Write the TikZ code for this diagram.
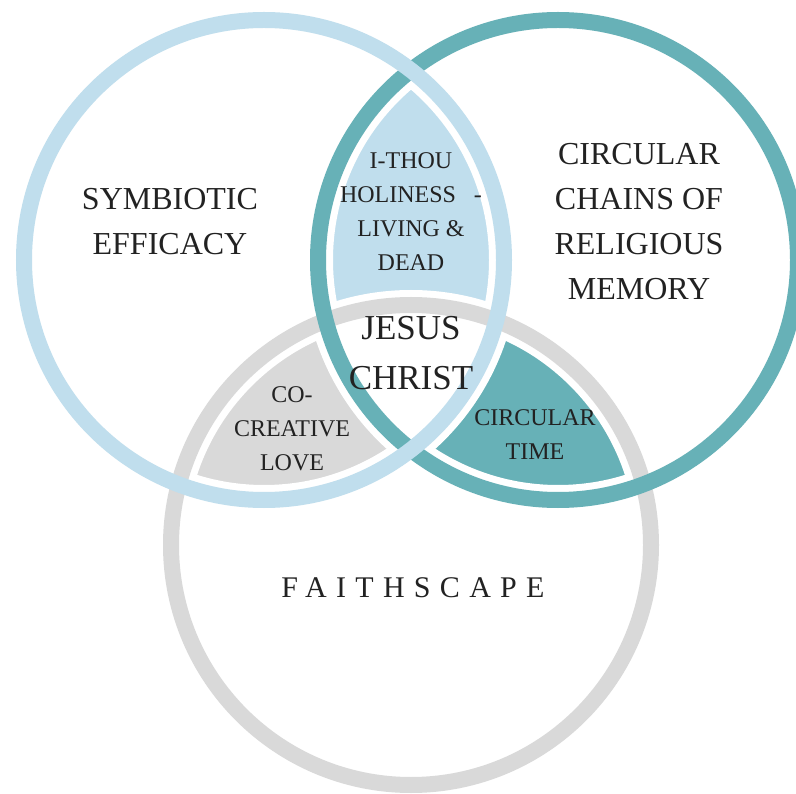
\documentclass[tikz,border=0pt]{standalone}
\usepackage{fontspec}
\setmainfont{Liberation Serif}
\newfontfamily\spacedfont[LetterSpace=31]{Liberation Serif}
\usepackage{tikz}
\usetikzlibrary{positioning}
\definecolor{ringblue}{RGB}{192,222,237}
\definecolor{ringteal}{RGB}{103,177,183}
\definecolor{ringgray}{RGB}{217,217,217}
\definecolor{ink}{RGB}{34,34,34}
\tikzstyle{ringline}=[line width=16pt]
\tikzstyle{halo}=[white,line width=30pt]
\tikzstyle{biglabel}=[align=center,text=ink,inner sep=0pt,font=\fontsize{32}{45}\selectfont]
\tikzstyle{smalllabel}=[align=center,text=ink,inner sep=0pt,font=\fontsize{24}{34}\selectfont]
\tikzstyle{corelabel}=[align=center,text=ink,inner sep=0pt,font=\fontsize{35}{50}\selectfont]
\tikzstyle{spacedlabel}=[text=ink,inner sep=0pt,font=\spacedfont\fontsize{30}{36}\selectfont]

\begin{document}
\begin{tikzpicture}[x=1pt,y=-1pt]
	\useasboundingbox (0,0) rectangle (796,794);
	\clip (0,0) rectangle (796,794);
	\coordinate (leftring) at (264,260);
	\coordinate (rightring) at (558,260);
	\coordinate (lowring) at (411,545);
	
	\begin{scope}
		\clip (leftring) circle (248pt);
		\clip (rightring) circle (248pt);
		\fill[ringblue,even odd rule] (lowring) circle (248pt) (0,0) rectangle (796,794);
	\end{scope}
	\begin{scope}
		\clip (leftring) circle (248pt);
		\clip (lowring) circle (248pt);
		\fill[ringgray,even odd rule] (rightring) circle (248pt) (0,0) rectangle (796,794);
	\end{scope}
	\begin{scope}
		\clip (rightring) circle (248pt);
		\clip (lowring) circle (248pt);
		\fill[ringteal,even odd rule] (leftring) circle (248pt) (0,0) rectangle (796,794);
	\end{scope}
	
	\foreach \c in {lowring,rightring,leftring}
		\draw[halo] (\c) circle (240pt);
	\draw[ringline,ringgray] (lowring) circle (240pt);
	\draw[ringline,ringteal] (rightring) circle (240pt);
	\draw[ringline,ringblue] (leftring) circle (240pt);
	
	\node[biglabel] (symbiotic) at (170,222) {SYMBIOTIC\\EFFICACY};
	\node[biglabel] (chains) at (639,222) {CIRCULAR\\CHAINS OF\\RELIGIOUS\\MEMORY};
	\node[smalllabel] (ithou) at (411,212) {I-THOU\\HOLINESS\ \ \ -\\LIVING \&\\DEAD};
	\node[corelabel] (jesus) at (411,353) {JESUS\\CHRIST};
	\node[smalllabel] (cocreative) at (292,429) {CO-\\CREATIVE\\LOVE};
	\node[smalllabel] (circtime) at (535,435) {CIRCULAR\\TIME};
	\node[spacedlabel] (faithscape) at (413,588) {FAITHSCAPE};
\end{tikzpicture}
\end{document}
